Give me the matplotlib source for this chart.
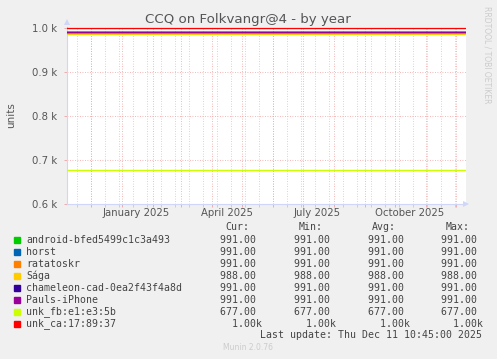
import datetime as dt
import matplotlib
matplotlib.use("Agg")
import matplotlib.pyplot as plt
import matplotlib.dates as mdates

# Дані з графіка
hosts = ["android-bfed5499c1c3a493", "horst", "ratatoskr", "Sága",
         "chameleon-cad-0ea2f43f4a8d", "Pauls-iPhone", "unk_fb:e1:e3:5b",
         "unk_ca:17:89:37"]
colors = ["#00CC00", "#0066B3", "#FF8000", "#FFCC00",
          "#330099", "#990099", "#CCFF00", "#FF0000"]
cur = [991, 991, 991, 988, 991, 991, 677, 1000]
vmin = [991, 991, 991, 988, 991, 991, 677, 1000]
vavg = [991, 991, 991, 988, 991, 991, 677, 1000]
vmax = [991, 991, 991, 988, 991, 991, 677, 1000]

t_end = dt.datetime(2025, 12, 11, 10, 45)
t_start = t_end - dt.timedelta(days=399)
times = [t_start, t_end]

month_labels = ["January 2025", "April 2025", "July 2025", "October 2025"]
label_dates = [dt.datetime(2025, m, 16) for m in (1, 4, 7, 10)]
yticks = [600, 700, 800, 900, 1000]
ytick_labels = ["0.6 k", "0.7 k", "0.8 k", "0.9 k", "1.0 k"]

W, H = 497, 359
fig = plt.figure(figsize=(W / 100, H / 100), dpi=100, facecolor="#F0F0F0")
ax = fig.add_axes([67 / W, 1 - 204 / H, (466 - 67) / W, (204 - 27) / H])
ax.set_facecolor("white")

# сітка
minor = []
d = dt.datetime(2024, 11, 17)
while d < t_end:
    minor.append(d)
    d += dt.timedelta(days=14)
major = []
for y in (2024, 2025):
    for m in range(1, 13):
        dd = dt.datetime(y, m, 1)
        if t_start < dd < t_end:
            major.append(dd)
for d in minor:
    ax.axvline(d, color="#C8C8C8", lw=0.6, ls=(0, (1, 2)), zorder=1)
for d in major:
    ax.axvline(d, color="#F0A0A0", lw=0.6, ls=(0, (1, 2)), zorder=1)
for y in yticks[1:]:
    ax.axhline(y, color="#F0A0A0", lw=0.6, ls=(0, (1, 2)), zorder=1)

for h, c, v in zip(hosts, colors, cur):
    ax.plot(times, [v, v], color=c, lw=1.0, zorder=3)

ax.set_xlim(t_start, t_end)
ax.set_ylim(600, 1003)
ax.set_yticks(yticks)
ax.set_yticklabels(ytick_labels)
ax.set_xticks(major)
ax.set_xticklabels([])
ax.set_xticks(minor, minor=True)
ax.tick_params(axis="x", which="major", color="#F0A0A0", length=2, width=0.6)
ax.tick_params(axis="x", which="minor", color="#C8C8C8", length=2, width=0.6)
ax.tick_params(axis="y", color="#F0A0A0", length=2, width=0.6,
               labelsize=7.3, labelcolor="#555555", pad=5)
for t, lbl in zip(label_dates, month_labels):
    ax.text(mdates.date2num(t), -0.02, lbl, transform=ax.get_xaxis_transform(),
            ha="center", va="top", fontsize=7.3, color="#555555")

for s in ("top", "right"):
    ax.spines[s].set_visible(False)
for s in ("left", "bottom"):
    ax.spines[s].set_color("#CFD6F8")
    ax.spines[s].set_linewidth(0.8)
ax.plot([1.0], [0], marker=">", color="#CFD6F8", ms=5, transform=ax.transAxes,
        clip_on=False, markeredgewidth=0)
ax.plot([0], [1.03], marker="^", color="#CFD6F8", ms=5, transform=ax.transAxes,
        clip_on=False, markeredgewidth=0)

fig.text(248 / W, 1 - 19 / H, "CCQ on Folkvangr@4 - by year", ha="center",
         va="center", fontsize=9.6, color="#555555")
fig.text(11 / W, 1 - 115 / H, "units", rotation=90, ha="center", va="center",
         fontsize=7.5, color="#555555")
fig.text(487 / W, 1 - 6 / H, "RRDTOOL / TOBI OETIKER", rotation=270,
         ha="center", va="top", fontsize=5.5, color="#CCCCCC")

# легенда
mono = "DejaVu Sans Mono"
fs = 7.1
lc = "#444444"
col_x = [220, 294, 368, 441]
for x, hdr in zip([249, 323, 396, 470], ["Cur:", "Min:", "Avg:", "Max:"]):
    fig.text(x / W, 1 - 227.5 / H, hdr, ha="right", va="center",
             family=mono, fontsize=fs, color=lc)


def fmt(v):
    if v >= 1000:
        return "%6.2fk" % (v / 1000)
    return "%6.2f " % v


for i, (h, c) in enumerate(zip(hosts, colors)):
    y = 1 - (239.7 + 12 * i) / H
    fig.patches.append(plt.Rectangle((14 / W, y - 3 / H), 6 / W, 6 / H,
                                     transform=fig.transFigure, color=c))
    fig.text(26.3 / W, y, h, ha="left", va="center", family=mono,
             fontsize=fs, color=lc)
    for x, vals in zip(col_x, [cur, vmin, vavg, vmax]):
        fig.text(x / W, y, fmt(vals[i]), ha="left", va="center",
                 family=mono, fontsize=fs, color=lc)

fig.text(482.5 / W, 1 - 335.5 / H, "Last update: Thu Dec 11 10:45:00 2025",
         ha="right", va="center", family=mono, fontsize=fs, color=lc)
fig.text(248 / W, 1 - 348 / H, "Munin 2.0.76", ha="center", va="center",
         fontsize=5.5, color="#CCCCCC")

fig.savefig("out.png", dpi=100, facecolor=fig.get_facecolor())
